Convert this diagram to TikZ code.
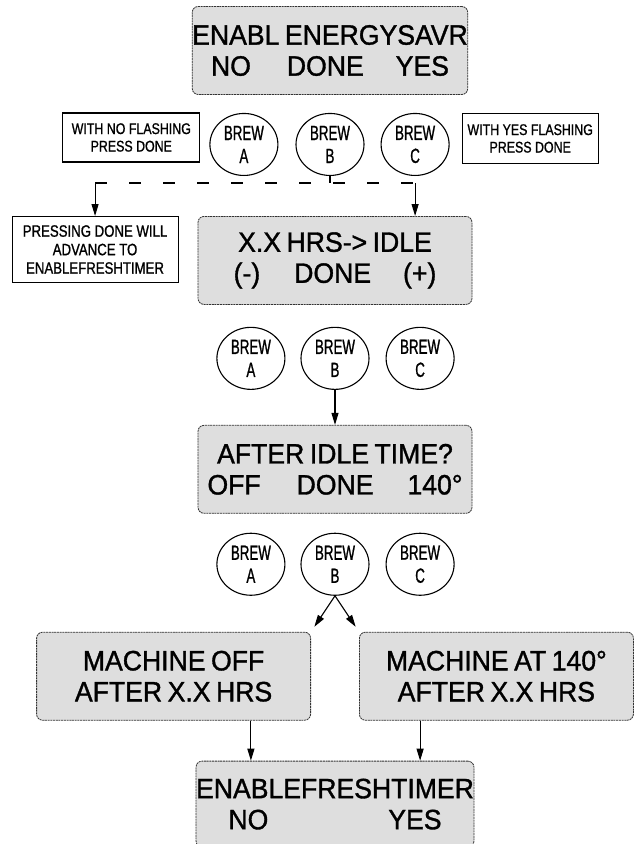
\documentclass[tikz,border=0pt]{standalone}
\usepackage{fontspec}
\newfontfamily\lcdfont[FakeStretch=0.95, FakeBold=1.2, WordSpace=0.75]{Liberation Sans}
\newfontfamily\notefont[FakeStretch=0.8, FakeBold=1]{Liberation Sans}
\newfontfamily\btnfont[FakeStretch=0.65, FakeBold=1]{Liberation Sans}
\usepackage{xcolor}
\usetikzlibrary{positioning, arrows.meta, shapes.geometric}
\definecolor{lcdgray}{HTML}{DEDEDE}
\tikzset{
  lcd/.style={draw=black!80, fill=lcdgray, rounded corners=6pt, line width=0.8pt,
              dash pattern=on 2pt off 0.7pt, minimum width=274pt, minimum height=88pt,
              inner sep=0pt, align=center, font=\lcdfont\fontsize{28}{31}\selectfont},
  btn/.style={ellipse, draw, line width=1.1pt, minimum width=68pt, minimum height=62pt,
              inner sep=0pt, align=center, font=\btnfont\fontsize{20.5}{23}\selectfont},
  note/.style={draw, line width=1.1pt, inner sep=0pt, align=center,
               font=\notefont\fontsize{15.5}{17.5}\selectfont},
  ar/.style={-{Triangle[length=12pt, width=7pt]}, line width=1.1pt},
}

\begin{document}
\begin{tikzpicture}[x=1pt, y=1pt]
  \useasboundingbox (0,0) rectangle (633,-844);

  % --- energy saver display and its buttons ---
  \node[lcd] (energy) at (330,-50.5) {ENABL ENERGYSAVR\\NO\hspace{36pt}DONE\hspace{32pt}YES};
  \node[btn, below=18pt of energy] (b1) {BREW\\B};
  \node[btn, left=17pt of b1] (a1) {BREW\\A};
  \node[btn, right=16pt of b1] (c1) {BREW\\C};
  \node[note, left=9pt of a1, yshift=7pt, minimum width=137pt, minimum height=49pt] (withno)
       {WITH NO FLASHING\\PRESS DONE};
  \node[note, right=12pt of c1, yshift=6pt, minimum width=136pt, minimum height=50pt] (withyes)
       {WITH YES FLASHING\\PRESS DONE};

  % --- idle hours display ---
  \node[lcd, below=40pt of b1, xshift=5pt] (idle) {X.X HRS-> IDLE\\(-)\hspace{34pt}DONE\hspace{32pt}(+)};
  \node[note, left=19pt of idle.north west, anchor=north east, minimum width=166pt, minimum height=66pt,
        font=\notefont\fontsize{16.5}{18.5}\selectfont] (press)
       {PRESSING DONE WILL\\ADVANCE TO\\ENABLEFRESHTIMER};
  \node[btn, below=22pt of idle] (b2) {BREW\\B};
  \node[btn, left=15pt of b2] (a2) {BREW\\A};
  \node[btn, right=16pt of b2] (c2) {BREW\\C};

  % --- after idle display ---
  \node[lcd, below=35pt of b2] (after) {AFTER IDLE TIME?\\OFF\hspace{36pt}DONE\hspace{34pt}140°};
  \node[btn, below=19pt of after] (b3) {BREW\\B};
  \node[btn, left=15pt of b3] (a3) {BREW\\A};
  \node[btn, right=16pt of b3] (c3) {BREW\\C};

  % --- results ---
  \node[lcd, below left=36pt and 24pt of b3.south] (off) {MACHINE OFF\\AFTER X.X HRS};
  \node[lcd, below right=36pt and 24pt of b3.south] (warm) {MACHINE AT 140°\\AFTER X.X HRS};
  \node[lcd, below=247pt of after, minimum height=86pt] (fresh)
       {ENABLEFRESHTIMER\\NO\hspace{120pt}YES};

  % --- arrows ---
  \coordinate[below=7pt of b1.south] (fork);
  \draw[line width=1.1pt] (b1.south) -- (fork);
  \draw[line width=1.1pt, dash pattern=on 12pt off 22pt] (fork -| press) -- (fork -| c1);
  \draw[ar] (fork -| press) -- (press);
  \draw[ar] (fork -| c1) -- (c1 |- idle.north);
  \draw[ar] (b2) -- (after);
  \draw[ar, shorten >=6pt] (b3.south) -- (off.north east);
  \draw[ar, shorten >=6pt] (b3.south) -- (warm.north west);
  \draw[ar] (off.south -| a3) -- (a3 |- fresh.north);
  \draw[ar] (warm.south -| c3) -- (c3 |- fresh.north);

\end{tikzpicture}
\end{document}
